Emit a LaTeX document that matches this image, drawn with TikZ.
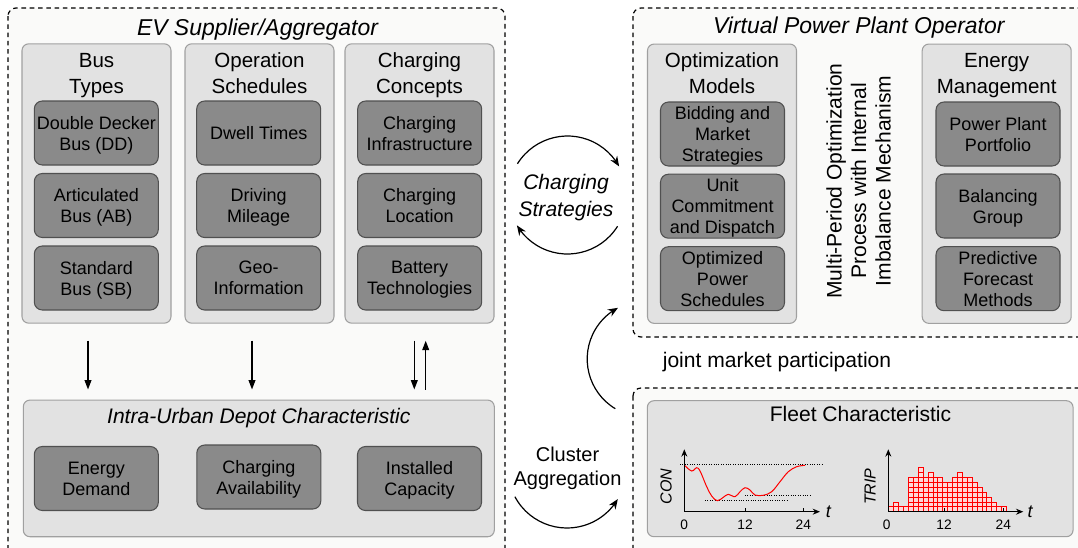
\documentclass[tikz,border=0pt]{standalone}
\usepackage{fontspec}
\setmainfont{Liberation Sans}
\usetikzlibrary{arrows.meta,bending,calc}
\definecolor{contfill}{RGB}{250,250,249}
\definecolor{grpfill}{RGB}{226,226,226}
\definecolor{grpdraw}{RGB}{160,160,160}
\definecolor{innfill}{RGB}{138,138,138}
\definecolor{inndraw}{RGB}{80,80,80}
\newcommand{\mlines}[1]{\vtop{\halign{\hfil##\hfil\cr#1\crcr}}}
\begin{document}
\begin{tikzpicture}[x=0.75pt,y=-0.75pt,
  cont/.style={draw=black, fill=contfill, dash pattern=on 3.4pt off 2.8pt, line width=0.9pt, rounded corners=6pt},
  group/.style={draw=grpdraw, fill=grpfill, rounded corners=5pt, line width=0.8pt, inner sep=0pt, minimum width=111.75pt, minimum height=209.5pt},
  inner/.style={draw=inndraw, fill=innfill, rounded corners=6pt, line width=0.8pt, minimum width=93pt, minimum height=48pt, inner sep=0pt, align=center, text depth=0pt, font=\fontsize{13.5}{15.75}\selectfont},
  gtitle/.style={anchor=base, inner sep=0pt, font=\fontsize{15.4}{20}\selectfont},
  mtitle/.style={anchor=base, inner sep=0pt, font=\fontsize{17.2}{20}\selectfont\itshape},
  varr/.style={line width=1.1pt, -{Triangle[length=7pt,width=5pt]}},
  carr/.style={line width=0.9pt, -{Stealth[length=7.5pt,width=6pt]}},
  axis/.style={line width=0.8pt, -{Stealth[length=5.5pt,width=4.5pt]}},
  ticklab/.style={inner sep=0pt, font=\fontsize{10.3}{12}\selectfont},
  cell/.style={draw=red, fill=red!15, line width=0.5pt},
  dotl/.style={line width=0.6pt, dash pattern=on 0.8pt off 1pt}
]
\useasboundingbox (0,0) rectangle (1078,547);
\fill[white] (0,0) rectangle (1078,547);

% containers
\draw[cont] (8,8) rectangle (505,575);
\draw[cont] (633,8) rectangle (1100,337);
\draw[cont] (633,388) rectangle (1100,575);
\node[mtitle] (tEV) at (257.5,35) {EV Supplier/Aggregator};
\node[mtitle] (tVPP) at (858.8,33.5) {Virtual Power Plant Operator};

% groups
\node[group] (gBus) at (96.5,183.5) {};
\node[group] (gOps) at (259.5,183.5) {};
\node[group] (gChg) at (419.5,183.5) {};
\node[group] (gOpt) at (722,183.7) {};
\node[group] (gEM) at (996.7,183.7) {};
\node[gtitle] (tBus) at (96.5,67) {\mlines{Bus\cr Types}};
\node[gtitle] (tOps) at (259.5,67) {\mlines{Operation\cr Schedules}};
\node[gtitle] (tChg) at (419.5,67) {\mlines{Charging\cr Concepts}};
\node[gtitle] (tOpt) at (722,67) {\mlines{Optimization\cr Models}};
\node[gtitle] (tEM) at (996.7,67) {\mlines{Energy\cr Management}};

% inner boxes
\node[inner] (dd) at (96.3,133) {Double Decker\\Bus (DD)};
\node[inner] (ab) at (96.3,205.5) {Articulated\\Bus (AB)};
\node[inner] (sb) at (96.3,278) {Standard\\Bus (SB)};
\node[inner] (dw) at (258.7,133) {Dwell Times};
\node[inner] (dm) at (258.7,205.5) {Driving\\Mileage};
\node[inner] (gi) at (258.7,278) {Geo-\\Information};
\node[inner] (ci) at (419.7,133) {Charging\\Infrastructure};
\node[inner] (cl) at (419.7,205.5) {Charging\\Location};
\node[inner] (bt) at (419.7,278) {Battery\\Technologies};
\node[inner] (bm) at (722.5,134) {Bidding and\\Market\\Strategies};
\node[inner] (uc) at (722.5,206.2) {Unit\\Commitment\\and Dispatch};
\node[inner] (op) at (722.5,278.7) {Optimized\\Power\\Schedules};
\node[inner] (pp) at (998,134) {Power Plant\\Portfolio};
\node[inner] (bg) at (998,206) {Balancing\\Group};
\node[inner] (pf) at (998,278.7) {Predictive\\Forecast\\Methods};

\node[rotate=90, inner sep=0pt, align=center, font=\fontsize{15.8}{18.4}\selectfont] (tMP) at (858.5,181) {Multi-Period Optimization\\Process with Internal\\Imbalance Mechanism};

% depot
\node[group, minimum width=353.25pt, minimum height=102.5pt] (depot) at (258.8,468.4) {};
\node[anchor=base, inner sep=0pt, font=\fontsize{15.8}{18}\selectfont\itshape] (tDepot) at (258.8,423) {Intra-Urban Depot Characteristic};
\node[inner] (ed) at (96.3,478.5) {Energy\\Demand};
\node[inner] (ca) at (258.8,477) {Charging\\Availability};
\node[inner] (ic) at (419.5,478.5) {Installed\\Capacity};

% vertical arrows
\coordinate (xa) at (88,0);
\coordinate (xb) at (252,0);
\coordinate (xc) at (414.3,0);
\coordinate (xd) at (425.7,0);
\draw[varr, shorten <=12.75pt, shorten >=7.5pt] (xa |- gBus.south) -- (xa |- depot.north);
\draw[varr, shorten <=12.75pt, shorten >=7.5pt] (xb |- gOps.south) -- (xb |- depot.north);
\draw[varr, shorten <=12.75pt, shorten >=7.5pt] (xc |- gChg.south) -- (xc |- depot.north);
\draw[varr, shorten <=7.5pt, shorten >=12.75pt] (xd |- depot.north) -- (xd |- gChg.south);

% charging strategies cycle
\coordinate (csC) at (567.5,195);
\draw[carr] (csC) ++(212:59) arc[start angle=212, end angle=331, radius=59];
\draw[carr] (csC) ++(32:59) arc[start angle=32, end angle=149, radius=59];
\node[anchor=base, inner sep=0pt, font=\fontsize{15.8}{20}\selectfont\itshape] (tCS) at (566,189.5) {\mlines{Charging\cr Strategies}};

% joint market arc
\coordinate (jmC) at (645.2,359);
\draw[carr] (jmC) ++(121:58) arc[start angle=121, end angle=242, radius=58];
\node[anchor=base, inner sep=0pt, font=\fontsize{15.8}{18}\selectfont] (tJM) at (777,367) {joint market participation};

% cluster aggregation arc
\coordinate (caC) at (567,469);
\draw[carr] (caC) ++(152:59) arc[start angle=152, end angle=30.6, radius=59];
\node[anchor=base, inner sep=0pt, font=\fontsize{15}{17.5}\selectfont] (tCA) at (567.5,461.7) {\mlines{Cluster\cr Aggregation}};

% fleet characteristic
\node[group, minimum width=319.3pt, minimum height=102pt] (fleet) at (860.2,468.7) {};
\node[anchor=base, inner sep=0pt, font=\fontsize{15.8}{18}\selectfont] (tFleet) at (860.5,421.7) {Fleet Characteristic};

% chart 1
\coordinate (o1) at (684.3,511.7);
\draw[dotl] (680,464) -- (821.7,464);
\draw[dotl] (705,500) -- (786.7,500);
\draw[dotl] (745,495.3) -- (811.7,495.3);
\draw[red, line width=0.75pt] plot[smooth, tension=0.6] coordinates {(684.3,465) (691.7,471) (698.3,468.3) (706.7,486.7) (711.7,496) (717.3,500.7) (723.3,497.3) (728.3,494.3) (735,496.7) (740,491.7) (745,487.7) (750,490) (755,495) (763.3,495.3) (771.7,491.7) (780,481.7) (788.3,471.7) (796.7,466.7) (805,465.3)};
\draw[axis] (o1) -- (684.3,449.3);
\draw[axis] (o1) -- (820,511.7);
\draw[line width=0.6pt] (745,511.7) -- (745,507.5);
\draw[line width=0.6pt] (803.3,511.7) -- (803.3,507.5);
\node[ticklab] (l10) at (684.3,525) {0};
\node[ticklab] (l112) at (745,525) {12};
\node[ticklab] (l124) at (803.3,525) {24};
\node[inner sep=0pt, font=\fontsize{13.5}{14}\selectfont\itshape] (lt1) at (828.3,511.5) {t};
\node[rotate=90, inner sep=0pt, font=\fontsize{12}{14}\selectfont\itshape] (lcon) at (666,486.7) {CON};

% chart 2
\coordinate (o2) at (888.3,511.7);
\foreach \h [count=\i from 0] in {1,2,1,1,7,7,9,7,8,7,7,6,6,7,8,7,7,6,5,4,3,2,1,1} {
  \foreach \j in {1,...,\h} {
    \draw[cell] ({888.8+\i*4.9},{511.7-(\j-1)*4.9}) rectangle ++(4.9,-4.9);
  }
}
\draw[axis] (o2) -- (888.3,449.3);
\draw[axis] (o2) -- (1023.3,511.7);
\draw[line width=0.6pt] (944,511.7) -- (944,507.5);
\draw[line width=0.6pt] (1003.3,511.7) -- (1003.3,507.5);
\node[ticklab] (l20) at (886.7,525) {0};
\node[ticklab] (l212) at (944,525) {12};
\node[ticklab] (l224) at (1003.3,525) {24};
\node[inner sep=0pt, font=\fontsize{13.5}{14}\selectfont\itshape] (lt2) at (1030,511.5) {t};
\node[rotate=90, inner sep=0pt, font=\fontsize{12}{14}\selectfont\itshape] (ltrip) at (870,486.7) {TRIP};
\end{tikzpicture}
\end{document}
